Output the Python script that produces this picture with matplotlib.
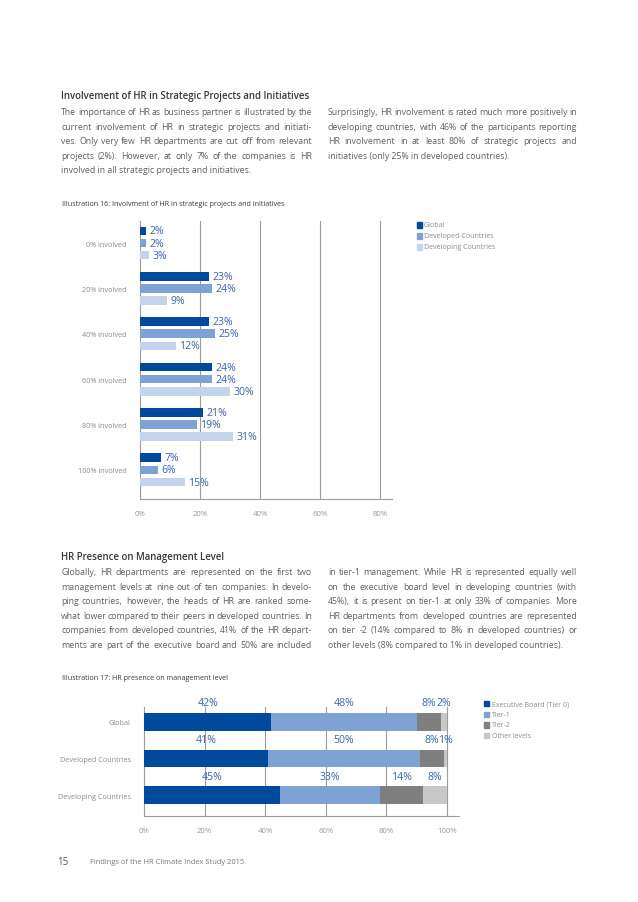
import numpy as np
import matplotlib
matplotlib.use('Agg')
import matplotlib.pyplot as plt

plt.rcParams['font.family'] = ['Open Sans', 'DejaVu Sans']

## Chart data (Illustration 16)
involvement = ['0% involved', '20% involved', '40% involved', '60% involved', '80% involved', '100% involved']
series16 = ['Global', 'Developed Countries', 'Developing Countries']
global16 = [2, 23, 23, 24, 21, 7]
developed16 = [2, 24, 25, 24, 19, 6]
developing16 = [3, 9, 12, 30, 31, 15]
ticks16 = [0, 20, 40, 60, 80]

## Chart data (Illustration 17)
groups17 = ['Global', 'Developed Countries', 'Developing Countries']
levels17 = ['Executive Board (Tier 0)', 'Tier-1', 'Tier-2', 'Other levels']
global17 = [42, 48, 8, 2]
developed17 = [41, 50, 8, 1]
developing17 = [45, 33, 14, 8]
ticks17 = [0, 20, 40, 60, 80, 100]

## Page text
head1 = 'Involvement of HR in Strategic Projects and Initiatives'
left1 = ['The importance of HR as business partner is illustrated by the',
         'current involvement of HR in strategic projects and initiati-',
         'ves. Only very few HR departments are cut off from relevant',
         'projects (2%). However, at only 7% of the companies is HR',
         'involved in all strategic projects and initiatives.']
right1 = ['Surprisingly, HR involvement is rated much more positively in',
          'developing countries, with 46% of the participants reporting',
          'HR involvement in at least 80% of strategic projects and',
          'initiatives (only 25% in developed countries).']
cap16 = 'Illustration 16: Involvment of HR in strategic projects and initiatives'
head2 = 'HR Presence on Management Level'
left2 = ['Globally, HR departments are represented on the first two',
         'management levels at nine out of ten companies. In develo-',
         'ping countries, however, the heads of HR are ranked some-',
         'what lower compared to their peers in developed countries. In',
         'companies from developed countries, 41% of the HR depart-',
         'ments are part of the executive board and 50% are included']
right2 = ['in tier-1 management. While HR is represented equally well',
          'on the executive board level in developing countries (with',
          '45%), it is present on tier-1 at only 33% of companies. More',
          'HR departments from developed countries are represented',
          'on tier -2 (14% compared to 8% in developed countries) or',
          'other levels (8% compared to 1% in developed countries).']
cap17 = 'Illustration 17: HR presence on management level'
footer = 'Findings of the HR Climate Index Study 2015'

W, H = 638, 903
fig = plt.figure(figsize=(W/100, H/100), dpi=100)
renderer = fig.canvas.get_renderer()

def fx(x):
    return x / W

def fy(y):
    return 1 - y / H

BODY = '#606060'
DARK = '#383838'
LBL = '#3a64ae'
GRID = '#9c9c9c'
BODY_SIZE = 6.35

## Justified text lines on a common baseline, the last line of a paragraph left aligned
def paragraph(lines, x0, x1, y0, step, last_left=True, size=BODY_SIZE):
    for i, line in enumerate(lines):
        y = y0 + i*step + 3.2
        if last_left and i == len(lines) - 1:
            fig.text(fx(x0), fy(y), line, fontsize=size, color=BODY, va='baseline')
            continue
        words = line.split()
        texts = [fig.text(0, fy(y), w, fontsize=size, color=BODY, va='baseline') for w in words]
        widths = [t.get_window_extent(renderer).width for t in texts]
        gap = (x1 - x0 - sum(widths)) / (len(words) - 1)
        x = x0
        for t, w in zip(texts, widths):
            t.set_x(fx(x))
            x += w + gap

fig.text(fx(61), fy(97), head1, fontsize=6.9, color=DARK, weight='semibold', va='center')
paragraph(left1, 61, 312, 112, 14.5)
paragraph(right1, 328, 577, 112, 14.5)
fig.text(fx(62), fy(204), cap16, fontsize=5.1, color=DARK, va='center')

fig.text(fx(61), fy(557.5), head2, fontsize=6.9, color=DARK, weight='semibold', va='center')
paragraph(left2, 61, 312, 572, 14.5, last_left=False)
paragraph(right2, 328, 577, 572, 14.5)
fig.text(fx(62), fy(678), cap17, fontsize=5.1, color=DARK, va='center')

fig.text(fx(63), fy(863), '15', fontsize=7, color='#555555', va='center', ha='center')
fig.text(fx(90), fy(863), footer, fontsize=5.4, color='#777777', va='center')

## ---- Illustration 16 ----
c16 = ['#004a9e', '#7ea2d3', '#c3d4ec']
ax1 = fig.add_axes([fx(140), fy(500), (392-140)/W, (500-222)/H])
y = np.arange(len(involvement))
offs = [-0.268, 0, 0.268]
for k, vals in enumerate([global16, developed16, developing16]):
    ax1.barh(y + offs[k], vals, height=0.19, color=c16[k], zorder=3, label=series16[k])
    for yi, v in zip(y + offs[k], vals):
        ax1.text(v + 1.1, yi, f'{v}%', fontsize=7.6, color=LBL, va='center', ha='left', zorder=4)
ax1.set_xlim(0, 84)
ax1.set_ylim(5.64, -0.485)
ax1.set_xticks(ticks16)
ax1.set_xticklabels([f'{t}%' for t in ticks16])
ax1.set_yticks(y)
ax1.set_yticklabels(involvement)
ax1.tick_params(axis='x', length=0, pad=8, labelsize=5.6, labelcolor='#9a9a9a')
ax1.tick_params(axis='y', length=0, pad=9.5, labelsize=5.2, labelcolor='#8c8c8c')
for t in ticks16[1:]:
    ax1.axvline(t, color=GRID, lw=0.8, zorder=1)
for s in ['top', 'right']:
    ax1.spines[s].set_visible(False)
for s in ['left', 'bottom']:
    ax1.spines[s].set_color(GRID)
    ax1.spines[s].set_linewidth(0.8)

for k, name in enumerate(series16):
    yy = 226 + k*11
    fig.patches.append(plt.Rectangle((fx(417), fy(yy+2.7)), 5.4/W, 5.4/H, color=c16[k], transform=fig.transFigure))
    fig.text(fx(424), fy(yy), name, fontsize=5.1, color='#8c8c8c', va='center')

## ---- Illustration 17 ----
c17 = ['#004a9e', '#7ea2d3', '#7f7f7f', '#c8c8c8']
px_per = 3.03
ax2 = fig.add_axes([fx(144), fy(817), (459-144)/W, (817-708)/H])
y2 = np.arange(len(groups17))
data17 = np.array([global17, developed17, developing17])
left = np.zeros(len(groups17))
for k in range(len(levels17)):
    vals = data17[:, k]
    ax2.barh(y2, vals, left=left, height=0.49, color=c17[k], zorder=3, label=levels17[k])
    for yi, l, v in zip(y2, left, vals):
        ax2.text(l + v/2, yi - 0.52, f'{v}%', fontsize=7.6, color=LBL, ha='center', va='center', zorder=4, clip_on=False)
    left = left + vals
ax2.set_xlim(0, (459-144)/px_per)
ax2.set_ylim(2.575, -0.41)
ax2.set_xticks(ticks17)
ax2.set_xticklabels([f'{t}%' for t in ticks17])
ax2.set_yticks(y2)
ax2.set_yticklabels(groups17)
ax2.tick_params(axis='x', length=0, pad=8, labelsize=5.6, labelcolor='#9a9a9a')
ax2.tick_params(axis='y', length=0, pad=9.5, labelsize=5.2, labelcolor='#8c8c8c')
for t in ticks17[1:]:
    ax2.axvline(t, color=GRID, lw=0.8, zorder=1)
for s in ['top', 'right']:
    ax2.spines[s].set_visible(False)
for s in ['left', 'bottom']:
    ax2.spines[s].set_color(GRID)
    ax2.spines[s].set_linewidth(0.8)

for k, name in enumerate(levels17):
    yy = 704.5 + k*10.7
    fig.patches.append(plt.Rectangle((fx(484), fy(yy+2.6)), 5.2/W, 5.2/H, color=c17[k], transform=fig.transFigure))
    fig.text(fx(492), fy(yy), name, fontsize=5.0, color='#8c8c8c', va='center')

plt.savefig('out.png', dpi=100)
